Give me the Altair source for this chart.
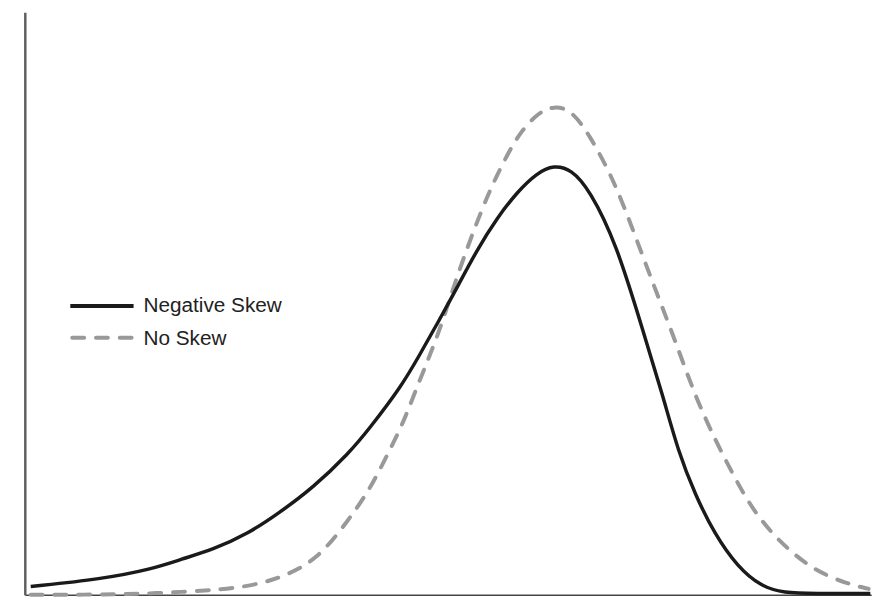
import altair as alt
import pandas as pd

series_names = ["Negative Skew", "No Skew"]

neg_x = [0.7, 9.1, 15.0, 18.5, 22.3, 26.3, 30.1, 34.0, 38.3, 40.7, 44.5, 46.5, 48.8,
         51.2, 53.5, 55.8, 58.2, 60.5, 62.5, 64.6, 66.7, 69.9, 73.0, 75.4, 77.2,
         79.2, 81.5, 84.2, 87.0, 89.7, 93.2, 99.9]
neg_y = [1.4, 2.7, 4.4, 6.1, 7.8, 10.4, 14.1, 18.3, 24.3, 28.5, 35.8, 40.8, 46.7,
         53.1, 59.4, 64.7, 69.2, 72.4, 73.8, 73.0, 69.6, 60.3, 45.5, 34.1, 24.6,
         17.2, 10.4, 4.8, 1.4, 0.3, 0.2, 0.2]

no_x = [0.7, 9.1, 15.0, 24.0, 27.8, 30.5, 34.5, 38.3, 40.7, 42.2, 43.8, 45.0, 46.1,
        47.3, 48.5, 49.7, 50.8, 52.7, 55.0, 57.2, 58.5, 60.5, 62.5, 64.6, 66.7,
        69.5, 71.9, 74.2, 76.5, 79.2, 81.5, 83.9, 86.2, 89.4, 93.2, 97.1, 99.7]
no_y = [0.0, 0.0, 0.2, 0.9, 1.9, 3.1, 5.9, 12.9, 18.0, 22.2, 26.8, 30.6, 34.8,
        39.1, 43.5, 48.4, 53.5, 61.3, 69.8, 76.1, 79.3, 82.6, 84.0, 83.2, 79.0,
        71.5, 62.5, 53.5, 45.0, 34.1, 26.8, 20.0, 14.1, 8.7, 4.2, 1.9, 1.0]

df = pd.concat([
    pd.DataFrame({"x": neg_x, "y": neg_y, "series": series_names[0]}),
    pd.DataFrame({"x": no_x, "y": no_y, "series": series_names[1]}),
])

xs = alt.Scale(domain=[0, 100], nice=False, zero=False)
ys = alt.Scale(domain=[0, 100], nice=False, zero=False)

x_axis = alt.Axis(labels=False, ticks=False, grid=False, title=None,
                  domainColor="#444444", domainWidth=1.5)
y_axis = alt.Axis(labels=False, ticks=False, grid=False, title=None,
                  domainColor="#5f5f5f", domainWidth=2.5)

dashed = alt.Chart(df).transform_filter(
    alt.datum.series == series_names[1]
).mark_line(interpolate="basis", color="#999999", strokeWidth=4,
            strokeDash=[12, 12], strokeCap="round", clip=False).encode(
    x=alt.X("x:Q", scale=xs, axis=x_axis),
    y=alt.Y("y:Q", scale=ys, axis=y_axis),
    order="x:Q",
)

solid = alt.Chart(df).transform_filter(
    alt.datum.series == series_names[0]
).mark_line(interpolate="basis", color="#1a1a1a", strokeWidth=3.5, clip=False).encode(
    x=alt.X("x:Q", scale=xs, axis=x_axis),
    y=alt.Y("y:Q", scale=ys, axis=y_axis),
    order="x:Q",
)

leg0 = pd.DataFrame({"series": [series_names[0]]})
leg1 = pd.DataFrame({"series": [series_names[1]]})

leg_rule0 = alt.Chart(leg0).mark_rule(color="#1a1a1a", strokeWidth=4).encode(
    x=alt.value(46), x2=alt.value(110), y=alt.value(297))
leg_rule1 = alt.Chart(leg1).mark_rule(color="#999999", strokeWidth=4,
                                      strokeDash=[12, 12], strokeCap="round").encode(
    x=alt.value(48), x2=alt.value(108), y=alt.value(329))
leg_text0 = alt.Chart(leg0).mark_text(align="left", baseline="middle", fontSize=21,
                                      font="Liberation Sans", color="#222222").encode(
    x=alt.value(120), y=alt.value(297), text="series:N")
leg_text1 = alt.Chart(leg1).mark_text(align="left", baseline="middle", fontSize=21,
                                      font="Liberation Sans", color="#222222").encode(
    x=alt.value(120), y=alt.value(330), text="series:N")

chart = alt.layer(dashed, solid, leg_rule0, leg_rule1, leg_text0, leg_text1).properties(
    width=856, height=589,
    padding={"left": 14, "top": 1, "right": 9, "bottom": 0},
).configure_view(stroke=None)

chart.save("out.html", embed_options={"renderer": "svg", "actions": False})
